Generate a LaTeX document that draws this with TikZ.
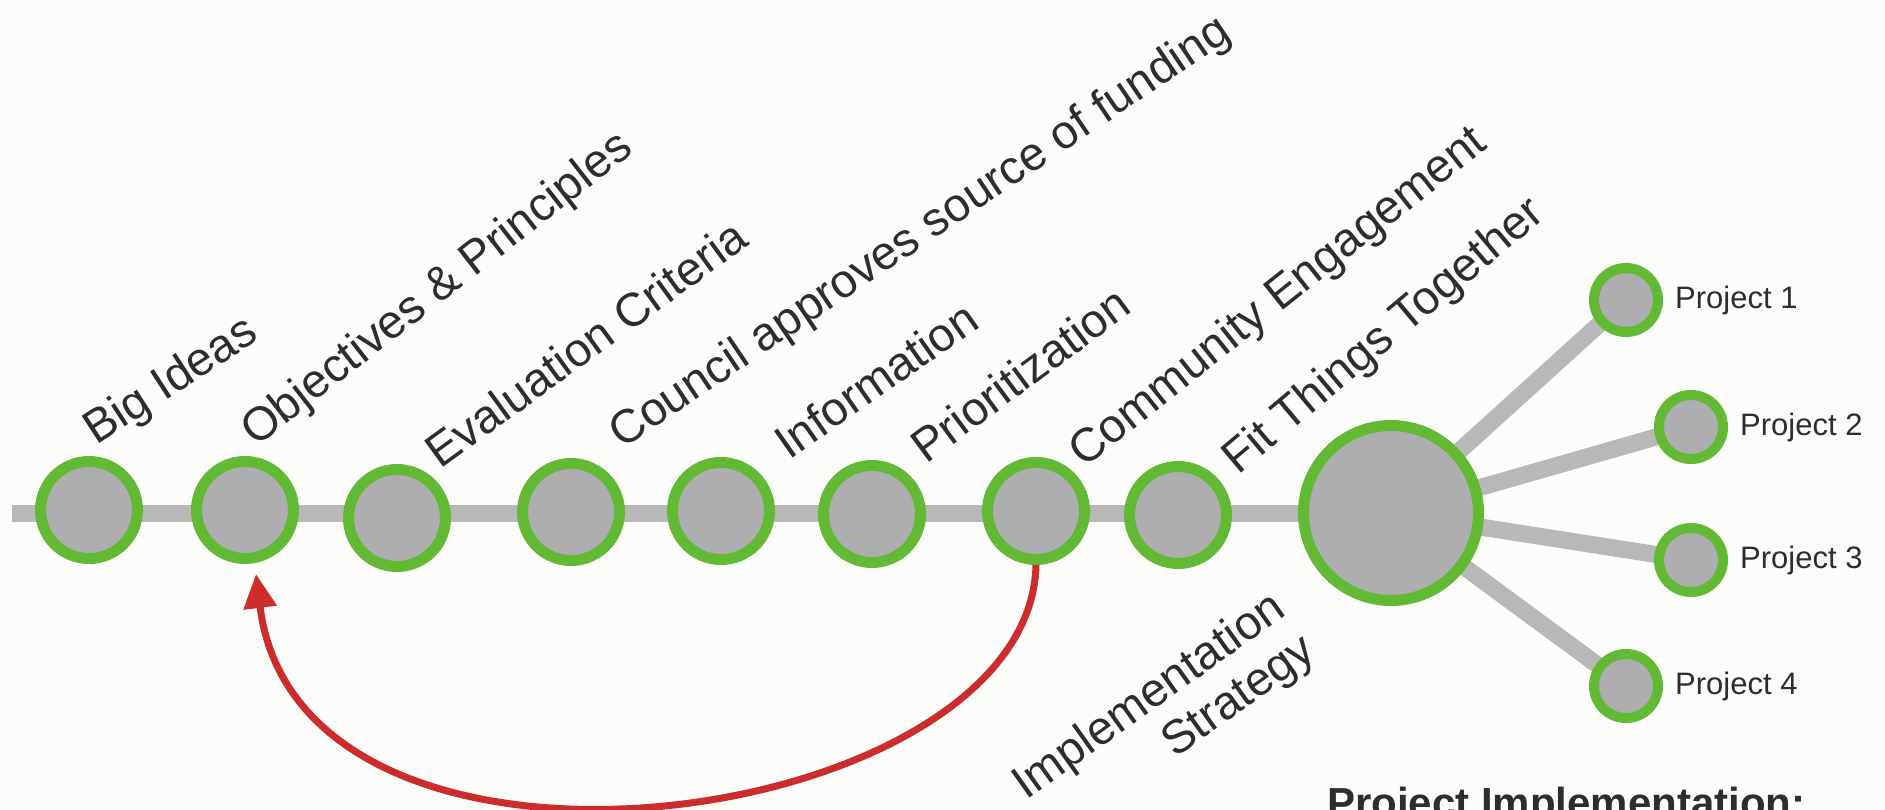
\documentclass[tikz,border=0pt]{standalone}
\usepackage{fontspec}
\setmainfont{Liberation Sans}
\usetikzlibrary{arrows.meta,backgrounds,calc,positioning}

\definecolor{ringgreen}{RGB}{98,186,52}
\definecolor{dotgray}{RGB}{174,174,177}
\definecolor{railgray}{RGB}{184,184,184}
\definecolor{loopred}{RGB}{204,44,44}
\definecolor{inkgray}{RGB}{45,45,45}
\definecolor{paper}{RGB}{252,252,250}

\tikzset{
  stage/.style={circle, fill=dotgray, draw=ringgreen, line width=11pt,
    minimum size=97pt, inner sep=0pt},
  hub/.style={stage, line width=11pt, minimum size=175pt},
  project/.style={stage, line width=10pt, minimum size=64pt},
  rail/.style={draw=railgray, line width=17pt},
  steplabel/.style={text=inkgray, anchor=base west, inner sep=0pt,
    font=\fontsize{47}{56}\selectfont},
  projlabel/.style={text=inkgray, anchor=west, inner sep=0pt,
    font=\fontsize{31}{37}\selectfont},
}

\begin{document}
\begin{tikzpicture}[x=1pt,y=-1pt]
  \useasboundingbox (0,0) rectangle (1885,810);
  %
  \coordinate (start) at (12,513);
  \foreach \name/\x/\y in {c1/89/510, c2/245/510, c3/397/518, c4/571/512,
                           c5/721/511, c6/872/514, c7/1036/511, c8/1178/515} {
    \node[stage] (\name) at (\x,\y) {};
  }
  \node[hub] (hub) at (1391,513) {};
  %
  \foreach \name/\x/\y in {p1/1626/300, p2/1691/427, p3/1691/560, p4/1626/686} {
    \node[project] (\name) at (\x,\y) {};
  }
  \foreach \n in {1,...,4} {
    \node[projlabel, right=12pt of p\n] (pl\n) {Project \n};
  }
  %
  \begin{scope}[on background layer]
    \fill[paper] (0,0) rectangle (1885,810);
    \draw[rail] (start) -- (hub.center);
    \foreach \n in {1,...,4} {
      \draw[rail] (hub.center) -- (p\n.center);
    }
  \end{scope}
  %
  \foreach \name/\x/\y/\a/\txt in {lbig/96/446/33/Big Ideas,
                                   lobj/256/448/38/Objectives \& Principles,
                                   leval/440/470/36/Evaluation Criteria,
                                   lcouncil/622/450/34/Council approves source of funding,
                                   linfo/789/461/35/Information,
                                   lprio/926/465/36.5/Prioritization,
                                   lcomm/1084/469/38.5/Community Engagement,
                                   lfit/1238/476/40/Fit Things Together} {
    \node[steplabel, rotate=\a] (\name) at (\x,\y) {\txt};
  }
  %
  \node[steplabel, rotate=35.5] (impl) at (1026,801) {Implementation};
  \node[steplabel, rotate=35.5, anchor=base east] (strat)
    at ($(impl.base east)+(54.5:52)$) {Strategy};
  %
  \node[anchor=base west, inner sep=0pt, text=inkgray,
        font=\bfseries\fontsize{42}{50}\selectfont] (projimpl) at (1327,817)
    {Project Implementation:};
  %
  \coordinate (backtip) at (256,574);
  \draw[loopred, line width=7pt, -{Triangle[length=34pt,width=32pt]}]
    (c7.south) .. controls (1030,830) and (300,930) .. (backtip);
\end{tikzpicture}
\end{document}
